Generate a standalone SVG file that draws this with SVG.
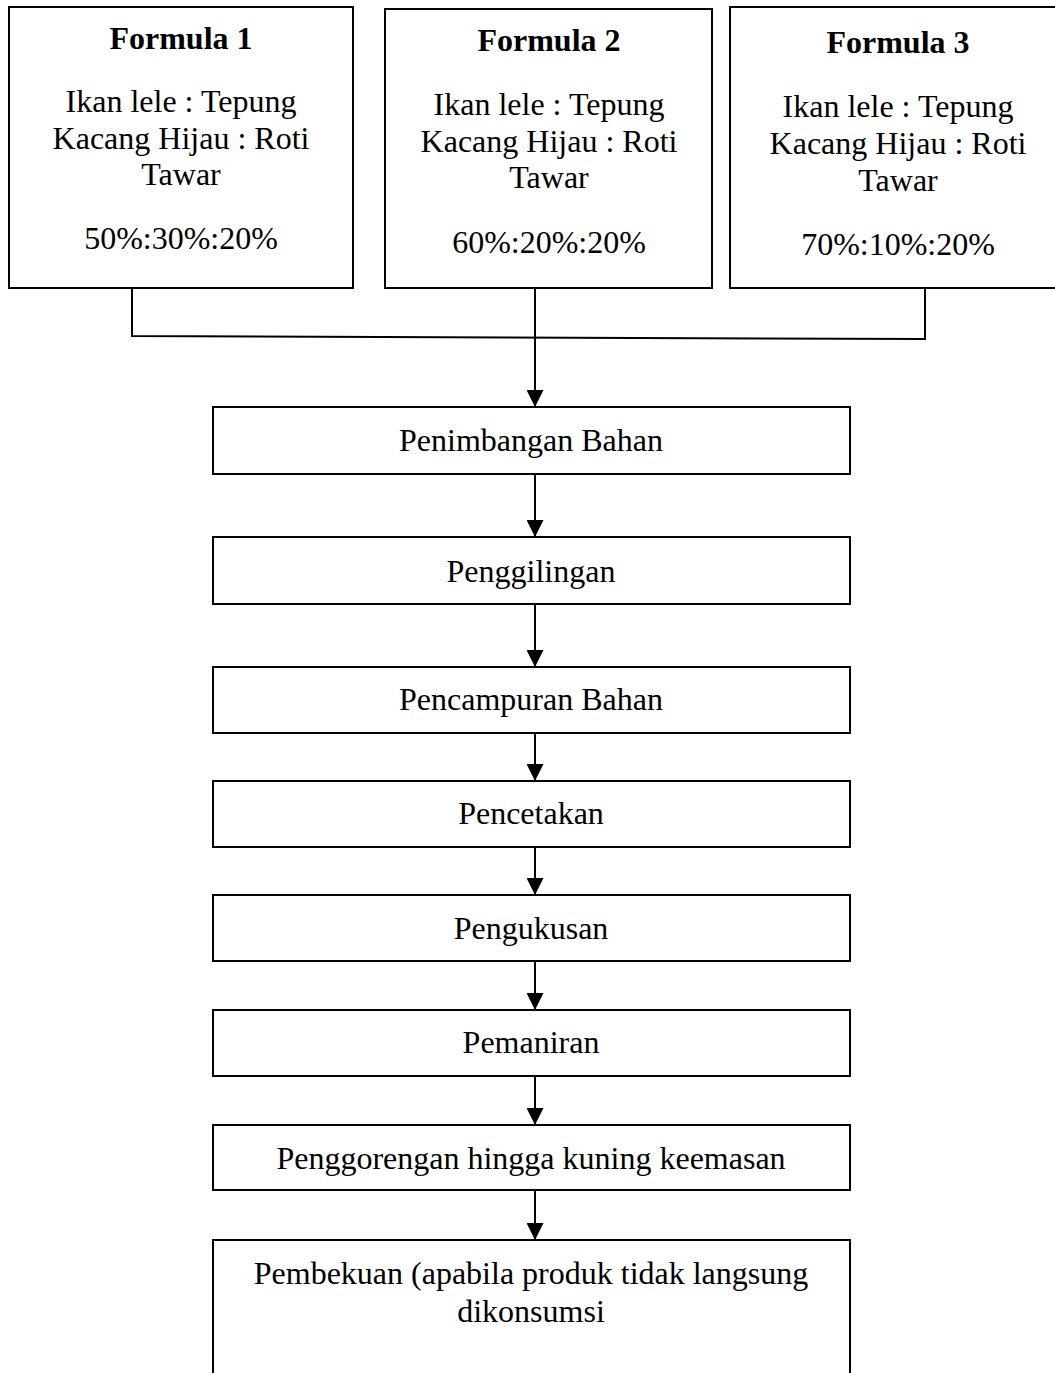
<svg xmlns="http://www.w3.org/2000/svg" width="1055" height="1373" viewBox="0 0 1055 1373">
  <style>
    .box { fill: #ffffff; stroke: #000000; stroke-width: 2; }
    .lbl { font-family: "Liberation Serif", "Times New Roman", serif; font-size: 32px; fill: #000000; text-anchor: middle; }
    .ttl { font-weight: bold; }
    .wire { fill: none; stroke: #000000; stroke-width: 2; }
  </style>
  <defs>
    <marker id="arrow" markerUnits="userSpaceOnUse" markerWidth="18" markerHeight="17" refX="17" refY="8.5" orient="auto">
      <path d="M0,0 L17,8.5 L0,17 Z" fill="#000000"/>
    </marker>
  </defs>
  <rect width="1055" height="1373" fill="#ffffff"/>

  <!-- formula boxes -->
  <g id="formula1">
    <rect class="box" x="9" y="7" width="344" height="281"/>
    <text class="lbl ttl" x="181" y="49">Formula 1</text>
    <text class="lbl" x="181" y="112">Ikan lele : Tepung</text>
    <text class="lbl" x="181" y="149">Kacang Hijau : Roti</text>
    <text class="lbl" x="181" y="185">Tawar</text>
    <text class="lbl" x="181" y="249">50%:30%:20%</text>
  </g>
  <g id="formula2">
    <rect class="box" x="385" y="9" width="327" height="279"/>
    <text class="lbl ttl" x="549" y="51">Formula 2</text>
    <text class="lbl" x="549" y="115">Ikan lele : Tepung</text>
    <text class="lbl" x="549" y="152">Kacang Hijau : Roti</text>
    <text class="lbl" x="549" y="188">Tawar</text>
    <text class="lbl" x="549" y="253">60%:20%:20%</text>
  </g>
  <g id="formula3">
    <rect class="box" x="730" y="7" width="340" height="281"/>
    <text class="lbl ttl" x="898" y="53">Formula 3</text>
    <text class="lbl" x="898" y="117">Ikan lele : Tepung</text>
    <text class="lbl" x="898" y="154">Kacang Hijau : Roti</text>
    <text class="lbl" x="898" y="191">Tawar</text>
    <text class="lbl" x="898" y="255">70%:10%:20%</text>
  </g>

  <!-- process steps -->
  <g id="penimbangan">
    <rect class="box" x="213" y="407" width="637" height="67"/>
    <text class="lbl" x="531" y="451">Penimbangan Bahan</text>
  </g>
  <g id="penggilingan">
    <rect class="box" x="213" y="537" width="637" height="67"/>
    <text class="lbl" x="531" y="582">Penggilingan</text>
  </g>
  <g id="pencampuran">
    <rect class="box" x="213" y="667" width="637" height="66"/>
    <text class="lbl" x="531" y="710">Pencampuran Bahan</text>
  </g>
  <g id="pencetakan">
    <rect class="box" x="213" y="781" width="637" height="66"/>
    <text class="lbl" x="531" y="824">Pencetakan</text>
  </g>
  <g id="pengukusan">
    <rect class="box" x="213" y="895" width="637" height="66"/>
    <text class="lbl" x="531" y="939">Pengukusan</text>
  </g>
  <g id="pemaniran">
    <rect class="box" x="213" y="1010" width="637" height="66"/>
    <text class="lbl" x="531" y="1053">Pemaniran</text>
  </g>
  <g id="penggorengan">
    <rect class="box" x="213" y="1125" width="637" height="65"/>
    <text class="lbl" x="531" y="1169">Penggorengan hingga kuning keemasan</text>
  </g>
  <g id="pembekuan">
    <rect class="box" x="213" y="1240" width="637" height="200"/>
    <text class="lbl" x="531" y="1284">Pembekuan (apabila produk tidak langsung</text>
    <text class="lbl" x="531" y="1322">dikonsumsi</text>
  </g>

  <!-- connectors -->
  <g id="connectors">
    <path class="wire" d="M132,289 L132,336 L925,339 L925,289"/>
    <path class="wire" d="M535,289 L535,407" marker-end="url(#arrow)"/>
    <path class="wire" d="M535,475 L535,537" marker-end="url(#arrow)"/>
    <path class="wire" d="M535,605 L535,667" marker-end="url(#arrow)"/>
    <path class="wire" d="M535,734 L535,781" marker-end="url(#arrow)"/>
    <path class="wire" d="M535,848 L535,895" marker-end="url(#arrow)"/>
    <path class="wire" d="M535,962 L535,1010" marker-end="url(#arrow)"/>
    <path class="wire" d="M535,1077 L535,1125" marker-end="url(#arrow)"/>
    <path class="wire" d="M535,1191 L535,1240" marker-end="url(#arrow)"/>
  </g>
</svg>
